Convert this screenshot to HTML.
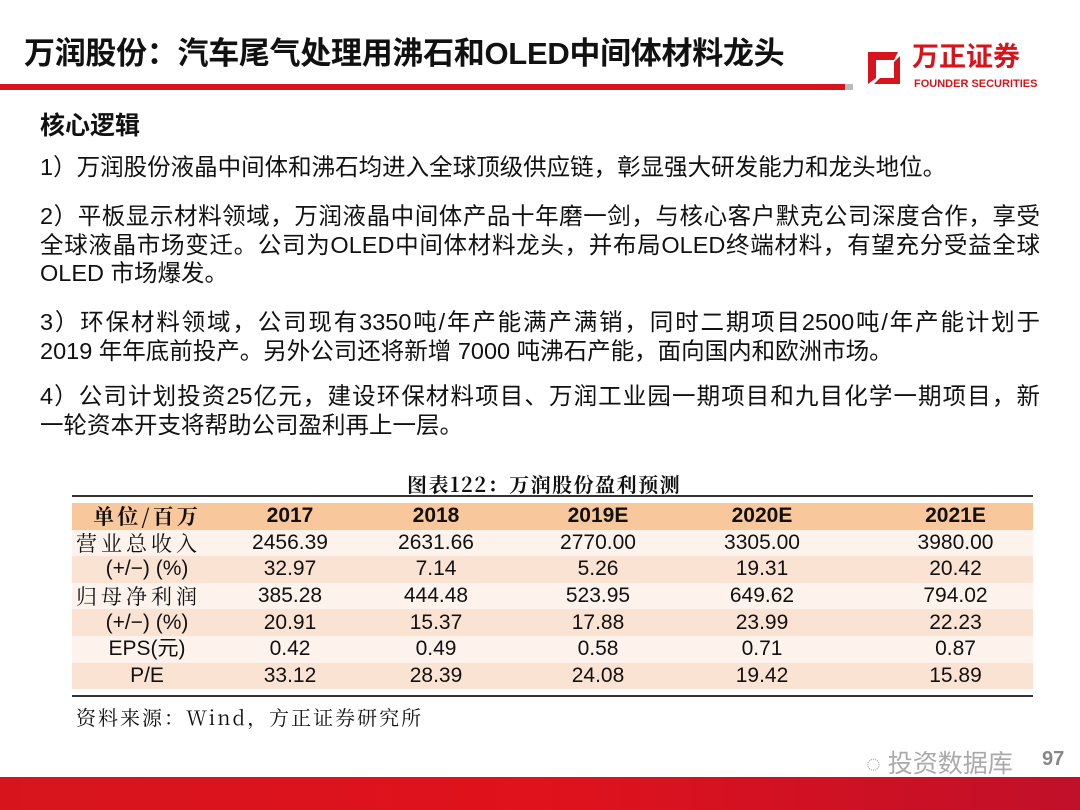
<!DOCTYPE html>
<html><head><meta charset="utf-8"><style>
body{margin:0;width:1080px;height:810px;position:relative;background:#fff;overflow:hidden;font-family:"Liberation Sans","Noto Sans CJK SC",sans-serif;color:#111}
.a{position:absolute;white-space:nowrap}
.p{position:absolute;left:40px;font-size:23.5px;line-height:28px;white-space:nowrap}
.j{width:1000px;text-align:justify;text-align-last:justify;white-space:normal;height:28px;overflow:hidden}
table{position:absolute;left:72px;top:503px;width:961px;border-collapse:collapse;font-size:21px;table-layout:fixed}
td{height:26.6px;padding:0;text-align:center;line-height:26px}
.s{font-family:"Noto Serif CJK SC","Liberation Sans",serif}
</style></head><body>
<div class="a" style="left:24px;top:28px;font-size:31px;font-weight:bold;letter-spacing:-0.3px">万润股份：汽车尾气处理用沸石和OLED中间体材料龙头</div>
<div class="a" style="left:0;top:84px;width:845px;height:6px;background:#d7141c"></div>
<div class="a" style="left:845px;top:84px;width:8px;height:6px;background:#bbb"></div>
<svg class="a" style="left:864px;top:48px" width="40" height="40" viewBox="0 0 40 40"><path d="M4 4 H34 L30 12 H12 V30 L4 36 Z" fill="#d7141c"/><path d="M36 8 V36 H10 L16 30 H30 V14 Z" fill="#d7141c"/></svg>
<div class="a" style="left:912px;top:42px;font-size:27px;line-height:30px;font-weight:bold;color:#d7141c">万正证券</div>
<div class="a" style="left:914px;top:78px;font-size:11px;line-height:12px;font-weight:bold;color:#d7141c">FOUNDER SECURITIES</div>
<div class="a" style="left:40px;top:106px;font-size:25px;font-weight:bold">核心逻辑</div>
<div class="p" style="top:153px">1）万润股份液晶中间体和沸石均进入全球顶级供应链，彰显强大研发能力和龙头地位。</div>
<div class="p j" style="top:202px">2）平板显示材料领域，万润液晶中间体产品十年磨一剑，与核心客户默克公司深度合作，享受</div>
<div class="p j" style="top:231px">全球液晶市场变迁。公司为OLED中间体材料龙头，并布局OLED终端材料，有望充分受益全球</div>
<div class="p" style="top:259px">OLED 市场爆发。</div>
<div class="p j" style="top:308px">3）环保材料领域，公司现有3350吨/年产能满产满销，同时二期项目2500吨/年产能计划于</div>
<div class="p" style="top:337px">2019 年年底前投产。另外公司还将新增 7000 吨沸石产能，面向国内和欧洲市场。</div>
<div class="p j" style="top:382px">4）公司计划投资25亿元，建设环保材料项目、万润工业园一期项目和九目化学一期项目，新</div>
<div class="p" style="top:411px">一轮资本开支将帮助公司盈利再上一层。</div>
<div class="a s" style="left:407px;top:469px;font-size:20px;font-weight:bold;letter-spacing:1.5px">图表122：万润股份盈利预测</div>
<div class="a" style="left:72px;top:495px;width:961px;height:2px;background:#333"></div>
<table>
<tr style="background:#f8c89c;font-weight:bold"><td class="s" style="width:150px;letter-spacing:3px">单位/百万</td><td style="width:136px">2017</td><td style="width:156px">2018</td><td style="width:168px">2019E</td><td style="width:160px">2020E</td><td style="padding-left:36px">2021E</td></tr>
<tr style="background:#fdf2ec"><td class="s" style="text-align:left;padding-left:4px;letter-spacing:4px">营业总收入</td><td>2456.39</td><td>2631.66</td><td>2770.00</td><td>3305.00</td><td style="padding-left:36px">3980.00</td></tr>
<tr style="background:#fbe3d3"><td>(+/−) (%)</td><td>32.97</td><td>7.14</td><td>5.26</td><td>19.31</td><td style="padding-left:36px">20.42</td></tr>
<tr style="background:#fdf2ec"><td class="s" style="text-align:left;padding-left:4px;letter-spacing:4px">归母净利润</td><td>385.28</td><td>444.48</td><td>523.95</td><td>649.62</td><td style="padding-left:36px">794.02</td></tr>
<tr style="background:#fbe3d3"><td>(+/−) (%)</td><td>20.91</td><td>15.37</td><td>17.88</td><td>23.99</td><td style="padding-left:36px">22.23</td></tr>
<tr style="background:#fdf2ec"><td>EPS(元)</td><td>0.42</td><td>0.49</td><td>0.58</td><td>0.71</td><td style="padding-left:36px">0.87</td></tr>
<tr style="background:#fbe3d3"><td>P/E</td><td>33.12</td><td>28.39</td><td>24.08</td><td>19.42</td><td style="padding-left:36px">15.89</td></tr>
</table>
<div class="a" style="left:72px;top:695px;width:961px;height:2px;background:#333"></div>
<div class="a s" style="left:76px;top:702px;font-size:20px;letter-spacing:2px">资料来源：Wind，方正证券研究所</div>
<div class="a" style="left:866px;top:744px;font-size:25px;color:#aaa">◌ 投资数据库</div>
<div class="a" style="left:1042px;top:748px;font-size:20px;font-weight:bold;color:#888">97</div>
<div class="a" style="left:0;top:777px;width:1080px;height:33px;background:linear-gradient(90deg,#d7141c,#e0121c 50%,#c1102a)"></div>
</body></html>
